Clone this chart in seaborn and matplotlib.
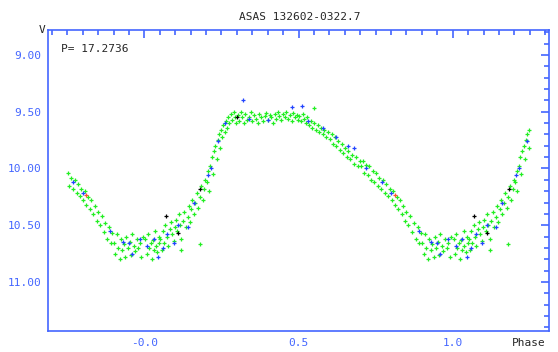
import matplotlib
matplotlib.use("Agg")
import matplotlib.pyplot as plt
import seaborn as sns
import numpy as np
import pandas as pd
from matplotlib.ticker import MultipleLocator, FixedLocator, FixedFormatter

# light curve points, phase in 0..1
green_phase = [0.003, 0.008, 0.012, 0.015, 0.02, 0.024, 0.028, 0.031, 0.035, 0.038, 0.042, 0.046, 0.049,
               0.052, 0.056, 0.06, 0.064, 0.068, 0.073, 0.077, 0.082, 0.086, 0.09, 0.095, 0.098,
               0.103, 0.107, 0.112, 0.116, 0.12, 0.125, 0.13, 0.135, 0.14, 0.145, 0.148, 0.12, 0.18,
               0.152, 0.156, 0.16, 0.165, 0.17, 0.175, 0.18, 0.185, 0.19, 0.195, 0.198,
               0.203, 0.207, 0.21, 0.214, 0.218, 0.222, 0.226, 0.23, 0.234, 0.238, 0.242, 0.246, 0.249,
               0.253, 0.256, 0.26, 0.264, 0.268, 0.272, 0.276, 0.28, 0.285, 0.29, 0.295, 0.298,
               0.303, 0.308, 0.312, 0.318, 0.322, 0.328, 0.333, 0.34, 0.345, 0.35, 0.356, 0.362, 0.368,
               0.373, 0.378, 0.384, 0.39, 0.395,
               0.402, 0.407, 0.412, 0.418, 0.423, 0.428, 0.433, 0.438, 0.444, 0.45, 0.455, 0.46, 0.466,
               0.472, 0.478, 0.483, 0.488, 0.494, 0.498, 0.55,
               0.503, 0.508, 0.513, 0.518, 0.523, 0.528, 0.534, 0.54, 0.545, 0.55, 0.556, 0.562, 0.568,
               0.573, 0.578, 0.584, 0.59, 0.596,
               0.602, 0.607, 0.612, 0.618, 0.623, 0.628, 0.634, 0.64, 0.645, 0.65, 0.656, 0.662, 0.668,
               0.674, 0.68, 0.686, 0.692, 0.698,
               0.703, 0.708, 0.713, 0.718, 0.724, 0.73, 0.735, 0.74, 0.746, 0.752, 0.757, 0.762, 0.768,
               0.774, 0.78, 0.785, 0.79, 0.796,
               0.802, 0.807, 0.812, 0.818, 0.823, 0.828, 0.834, 0.84, 0.845, 0.85, 0.856, 0.862, 0.868,
               0.874, 0.88, 0.886, 0.892, 0.896,
               0.902, 0.906, 0.91, 0.915, 0.92, 0.924, 0.928, 0.933, 0.938, 0.942, 0.947, 0.952, 0.956,
               0.96, 0.965, 0.97, 0.975, 0.98, 0.985, 0.99, 0.995]
green_mag = [10.62, 10.75, 10.58, 10.70, 10.66, 10.80, 10.63, 10.72, 10.55, 10.68, 10.74, 10.60, 10.66,
             10.62, 10.72, 10.55, 10.66, 10.50, 10.60, 10.68, 10.53, 10.47, 10.58, 10.64, 10.52,
             10.45, 10.55, 10.40, 10.50, 10.62, 10.46, 10.38, 10.52, 10.43, 10.33, 10.47, 10.72, 10.67,
             10.36, 10.28, 10.40, 10.30, 10.22, 10.35, 10.25, 10.15, 10.28, 10.18, 10.10,
             10.12, 10.02, 10.20, 9.98, 9.90, 10.05, 9.85, 9.80, 9.92, 9.75, 9.70, 9.82, 9.66,
             9.72, 9.62, 9.68, 9.58, 9.64, 9.55, 9.60, 9.52, 9.57, 9.50, 9.55, 9.60,
             9.53, 9.58, 9.50, 9.55, 9.60, 9.52, 9.57, 9.55, 9.50, 9.58, 9.53, 9.56, 9.60,
             9.52, 9.55, 9.58, 9.54, 9.51,
             9.57, 9.53, 9.55, 9.60, 9.52, 9.56, 9.50, 9.54, 9.57, 9.52, 9.55, 9.50, 9.56,
             9.53, 9.58, 9.51, 9.55, 9.53, 9.57, 9.47,
             9.54, 9.58, 9.52, 9.56, 9.60, 9.55, 9.62, 9.58, 9.64, 9.60, 9.66, 9.62, 9.68,
             9.64, 9.70, 9.66, 9.72, 9.68,
             9.74, 9.70, 9.78, 9.72, 9.80, 9.76, 9.84, 9.78, 9.86, 9.82, 9.90, 9.85, 9.92,
             9.88, 9.96, 9.90, 9.98, 9.93,
             9.98, 9.93, 10.04, 9.97, 10.06, 9.98, 10.10, 10.02, 10.12, 10.04, 10.15, 10.08, 10.18,
             10.10, 10.22, 10.14, 10.24, 10.18,
             10.28, 10.20, 10.32, 10.25, 10.36, 10.28, 10.40, 10.33, 10.46, 10.38, 10.50, 10.42, 10.56,
             10.48, 10.62, 10.52, 10.66, 10.57,
             10.66, 10.75, 10.58, 10.70, 10.80, 10.62, 10.72, 10.67, 10.78, 10.60, 10.70, 10.65, 10.76,
             10.58, 10.68, 10.73, 10.62, 10.70, 10.66, 10.78, 10.60]

blue_phase = [0.01, 0.03, 0.045, 0.06, 0.075, 0.095, 0.11, 0.14, 0.16, 0.205, 0.215, 0.24, 0.26,
              0.32, 0.34, 0.40, 0.48, 0.51, 0.53, 0.58, 0.62, 0.66, 0.68, 0.72, 0.77, 0.80,
              0.89, 0.93, 0.95, 0.96, 0.985]
blue_mag = [10.68, 10.62, 10.78, 10.70, 10.58, 10.66, 10.50, 10.52, 10.30, 10.06, 10.00, 9.76, 9.60,
            9.40, 9.56, 9.57, 9.46, 9.45, 9.58, 9.64, 9.72, 9.80, 9.82, 10.00, 10.12, 10.22,
            10.55, 10.65, 10.66, 10.75, 10.62]

black_phase = [0.07, 0.11, 0.182, 0.30]
black_mag = [10.42, 10.57, 10.18, 9.55]

red_phase = [0.812]
red_mag = [10.23]

colors = {"green": "#22ee22", "blue": "#2244ff", "black": "#000000", "red": "#ff5533"}

rows = []
for name, ph, mg in [("green", green_phase, green_mag), ("blue", blue_phase, blue_mag),
                     ("black", black_phase, black_mag), ("red", red_phase, red_mag)]:
    for p, m in zip(ph, mg):
        rows.append((p, m, name))
        if p >= 0.75:
            rows.append((p - 1, m, name))
        if p <= 0.25:
            rows.append((p + 1, m, name))
df = pd.DataFrame(rows, columns=["phase", "mag", "kind"])

sns.set_style("white")
fig = plt.figure(figsize=(5.58, 3.52), dpi=100)
ax = fig.add_axes([0.086, 0.0605, 0.898, 0.854])

for kind in ["green", "blue", "black", "red"]:
    sub = df[df["kind"] == kind]
    sns.scatterplot(data=sub, x="phase", y="mag", marker="+", color=colors[kind],
                    s=9, linewidth=0.9, ax=ax, legend=False, zorder=3)

ax.set_xlim(-0.3125, 1.3125)
ax.set_ylim(11.43, 8.78)
ax.set_xlabel("")
ax.set_ylabel("")

axis_col = "#4466ff"
for sp in ax.spines.values():
    sp.set_color(axis_col)
    sp.set_linewidth(1.2)

ax.xaxis.set_major_locator(FixedLocator([0.0, 0.5, 1.0]))
ax.xaxis.set_major_formatter(FixedFormatter(["-0.0", "0.5", "1.0"]))
ax.xaxis.set_minor_locator(MultipleLocator(0.05))
ax.yaxis.set_major_locator(MultipleLocator(0.5))
ax.yaxis.set_major_formatter(matplotlib.ticker.FormatStrFormatter("%.2f"))
ax.yaxis.set_minor_locator(MultipleLocator(0.1))

ax.tick_params(which="both", direction="in", top=True, right=True, color=axis_col, width=1.2)
ax.tick_params(which="major", length=6, labelsize=8, labelcolor=axis_col, pad=5)
ax.tick_params(which="minor", length=3.5)
for lab in ax.get_xticklabels() + ax.get_yticklabels():
    lab.set_family("DejaVu Sans Mono")

fig.text(0.538, 0.952, "ASAS 132602-0322.7", ha="center", va="center",
         fontsize=8, family="DejaVu Sans Mono")
fig.text(0.075, 0.915, "V", ha="center", va="center", fontsize=8, family="DejaVu Sans Mono")
fig.text(0.978, 0.025, "Phase", ha="right", va="center", fontsize=8, family="DejaVu Sans Mono")
ax.text(0.025, 0.955, "P= 17.2736", transform=ax.transAxes, ha="left", va="top",
        fontsize=8, family="DejaVu Sans Mono")

fig.savefig("out.png", dpi=100)
